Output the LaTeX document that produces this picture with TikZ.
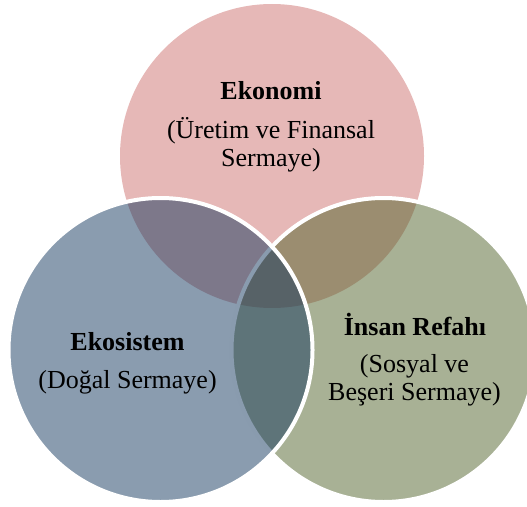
\documentclass[tikz,border=0pt]{standalone}
\usepackage{fontspec}
\setmainfont{Liberation Serif}
\usepackage{tikz}

\definecolor{ekonomiFill}{HTML}{E6B8B7}
\definecolor{refahFill}{RGB}{81,99,43}
\definecolor{ekoFill}{RGB}{21,57,95}

\begin{document}
\begin{tikzpicture}[x=0.75pt, y=-0.75pt,
    every node/.style={font=\fontsize{19.5}{20.5}\selectfont, align=center, inner sep=0pt, anchor=base},
    title/.style={font=\fontsize{19.5}{20.5}\selectfont\bfseries},
    venn/.style={draw=white, line width=3pt, fill opacity=0.5}]
    \clip (0,0) rectangle (527,506);

    % three circles, the last two half transparent
    \fill[ekonomiFill] (272,156) circle (152);
    \path[venn, fill=refahFill] (383.5,350) circle (152);
    \path[venn, fill=ekoFill] (160.5,350) circle (152);

    \node[title] (ekonomi) at (271,100) {Ekonomi};
    \node (uretim) at (271,166) {(Üretim ve Finansal\\Sermaye)};

    \node[title] (ekosistem) at (127.5,350) {Ekosistem};
    \node (dogal) at (127.5,388) {(Doğal Sermaye)};

    \node[title] (refah) at (415,335) {İnsan Refahı};
    \node (sosyal) at (414.5,400) {(Sosyal ve\\Beşeri Sermaye)};
\end{tikzpicture}
\end{document}
